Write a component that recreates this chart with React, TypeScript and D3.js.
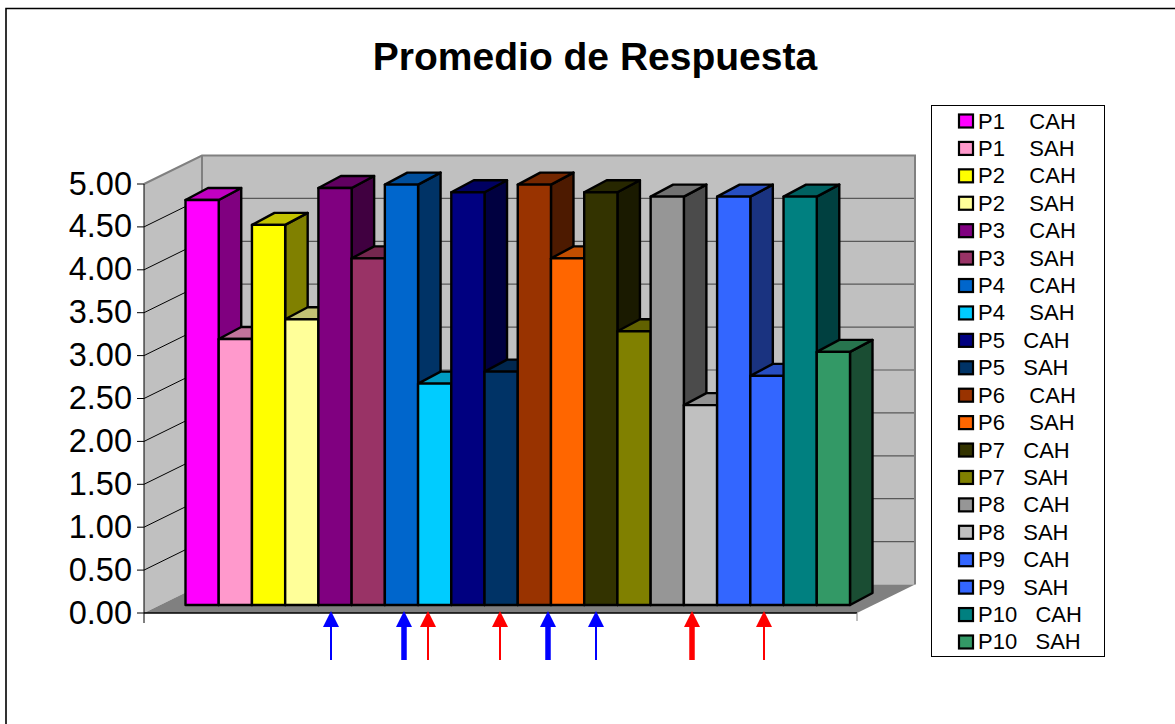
import React from "react";
import * as d3 from "d3";

const labels = ["P1    CAH","P1    SAH","P2    CAH","P2    SAH","P3    CAH","P3    SAH","P4    CAH","P4    SAH","P5   CAH","P5   SAH","P6    CAH","P6    SAH","P7   CAH","P7   SAH","P8   CAH","P8   SAH","P9   CAH","P9   SAH","P10   CAH","P10   SAH"];
const values = [4.72,3.10,4.43,3.33,4.86,4.04,4.90,2.58,4.81,2.72,4.90,4.04,4.81,3.19,4.76,2.33,4.76,2.67,4.76,2.95];
const fills = ["#FF00FF","#FF99CC","#FFFF00","#FFFF99","#800080","#993366","#0066CC","#00CCFF","#000080","#003366","#993300","#FF6600","#333300","#808000","#969696","#C0C0C0","#3366FF","#3366FF","#008080","#339966"];
const tickValues = [0,0.5,1,1.5,2,2.5,3,3.5,4,4.5,5];
const arrows = [
  { x: 331, color: "#0000FF", w: 2 },
  { x: 404, color: "#0000FF", w: 5.5 },
  { x: 428, color: "#FF0000", w: 2 },
  { x: 500, color: "#FF0000", w: 2 },
  { x: 548, color: "#0000FF", w: 5.5 },
  { x: 596, color: "#0000FF", w: 2 },
  { x: 692, color: "#FF0000", w: 5.5 },
  { x: 764, color: "#FF0000", w: 2 },
];

const FONT = "'Liberation Sans', Arial, sans-serif";
const shade = (c: string, k: number) => {
  const r = d3.rgb(c);
  return d3.rgb(r.r * k, r.g * k, r.b * k).formatHex();
};

export default function App() {
  const wallDx = 58, wallDy = -28.5;
  const barDx = 22.5, barDy = -12;
  const axisY = d3.scaleLinear().domain([0, 5]).range([613, 184]);
  const barY = d3.scaleLinear().domain([0, 5]).range([605, 176]);
  const x0 = 144, x1 = 857;
  const barX = d3.scaleBand<number>().domain(d3.range(values.length)).range([185.5, 850]);
  const gridColor = "#595959";
  const wallStroke = "#808080";
  const poly = (pts: number[][]) => pts.map(p => p.join(",")).join(" ");

  return (
    <svg width={1175} height={724} style={{ position: "absolute", left: 0, top: 0, background: "#fff" }} fontFamily={FONT}>
      <path d="M6 724 V8.5 H1175" fill="none" stroke="#000" strokeWidth={1.6} />
      <text x={595} y={70} textAnchor="middle" fontSize={39} fontWeight="bold" fill="#000">Promedio de Respuesta</text>

      {/* walls */}
      <polygon points={poly([[x0, axisY(5)], [x0 + wallDx, axisY(5) + wallDy], [x0 + wallDx, axisY(0) + wallDy], [x0, axisY(0)]])} fill="#C0C0C0" />
      <polygon points={poly([[x0 + wallDx, axisY(5) + wallDy], [x1 + wallDx, axisY(5) + wallDy], [x1 + wallDx, axisY(0) + wallDy], [x0 + wallDx, axisY(0) + wallDy]])} fill="#C0C0C0" />
      <polygon points={poly([[x0, axisY(0)], [x0 + wallDx, axisY(0) + wallDy], [x1 + wallDx, axisY(0) + wallDy], [x1, axisY(0)]])} fill="#808080" />
      {tickValues.filter(t => t > 0 && t < 5).map(t => (
        <g key={t}>
          <line x1={x0} y1={axisY(t)} x2={x0 + wallDx} y2={axisY(t) + wallDy} stroke="#000" strokeWidth={1} />
          <line x1={x0 + wallDx} y1={axisY(t) + wallDy} x2={x1 + wallDx} y2={axisY(t) + wallDy} stroke={gridColor} strokeWidth={1.2} />
        </g>
      ))}
      <path d={`M${x0} ${axisY(5)} L${x0 + wallDx} ${axisY(5) + wallDy} H${x1 + wallDx} V${axisY(0) + wallDy}`} fill="none" stroke={wallStroke} strokeWidth={2} />
      <line x1={x0 + wallDx} y1={axisY(5) + wallDy} x2={x0 + wallDx} y2={axisY(0) + wallDy} stroke={wallStroke} strokeWidth={2} />

      {/* axes */}
      <line x1={x0} y1={axisY(5)} x2={x0} y2={axisY(0) + 10} stroke="#000" strokeWidth={1} />
      <line x1={x0} y1={axisY(0)} x2={x1} y2={axisY(0)} stroke="#000" strokeWidth={1.4} />
      <line x1={x1} y1={axisY(0)} x2={x1} y2={axisY(0) + 8} stroke="#808080" strokeWidth={1} />
      {tickValues.map(t => (
        <g key={t}>
          <line x1={x0 - 7} y1={axisY(t)} x2={x0} y2={axisY(t)} stroke="#000" strokeWidth={1} />
          <text x={132} y={axisY(t) + 10.5} textAnchor="end" fontSize={32.5} fill="#000">{t.toFixed(2)}</text>
        </g>
      ))}

      {/* bars */}
      {values.map((v, i) => {
        const x = barX(i)!, w = barX.bandwidth(), y = barY(v), b = barY(0);
        return (
          <g key={i} stroke="#000" strokeWidth={2.4} strokeLinejoin="round">
            <polygon points={poly([[x + w, y], [x + w + barDx, y + barDy], [x + w + barDx, b + barDy], [x + w, b]])} fill={shade(fills[i], 0.5)} />
            <polygon points={poly([[x, y], [x + barDx, y + barDy], [x + w + barDx, y + barDy], [x + w, y]])} fill={shade(fills[i], 0.76)} />
            <rect x={x} y={y} width={w} height={b - y} fill={fills[i]} />
          </g>
        );
      })}

      {/* legend */}
      <rect x={931.5} y={105.5} width={173} height={551} fill="#fff" stroke="#000" strokeWidth={1} />
      {labels.map((l, i) => {
        const cy = 121 + i * 27.42;
        return (
          <g key={l}>
            <rect x={959} y={cy - 6.5} width={14} height={13} fill={fills[i]} stroke="#000" strokeWidth={2.2} />
            <text x={978} y={cy + 7.5} fontSize={22} fill="#000" style={{ whiteSpace: "pre" }}>{l}</text>
          </g>
        );
      })}

      {/* arrows */}
      {arrows.map((a, i) => (
        <g key={i} fill={a.color}>
          <line x1={a.x} y1={660} x2={a.x} y2={626} stroke={a.color} strokeWidth={a.w} />
          <polygon points={poly([[a.x, 611], [a.x + 8, 627], [a.x - 8, 627]])} />
        </g>
      ))}
    </svg>
  );
}
